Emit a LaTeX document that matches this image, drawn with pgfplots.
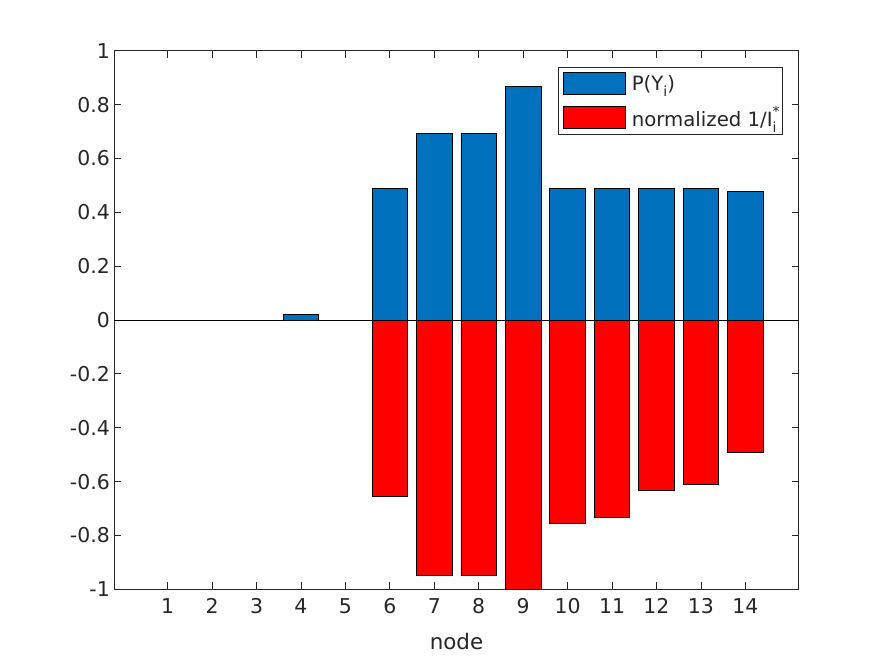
\documentclass[border=0pt]{standalone}
\usepackage{pgfplots}
\pgfplotsset{compat=1.18}
\usepackage{pgfplotstable}
\usepackage{fontspec}
\setmainfont{DejaVu Sans}
\definecolor{mblue}{RGB}{0,114,189}
\definecolor{mred}{RGB}{255,0,0}
\definecolor{mgray}{RGB}{38,38,38}
\newcommand{\sub}[1]{\raisebox{-0.55ex}{\fontsize{14}{14}\selectfont #1}}
\newcommand{\supsub}[2]{\rlap{\raisebox{0.9ex}{\fontsize{14}{14}\selectfont #1}}\raisebox{-0.55ex}{\fontsize{14}{14}\selectfont #2}}

\pgfplotstableread{
node p q
1 0 0
2 0 0
3 0 0
4 0.022 0
5 0 0
6 0.490 -0.655
7 0.694 -0.950
8 0.694 -0.950
9 0.868 -1.000
10 0.490 -0.755
11 0.490 -0.732
12 0.490 -0.632
13 0.490 -0.609
14 0.479 -0.490
}\data

\begin{document}
\begin{tikzpicture}
\begin{axis}[
  scale only axis, width=684.4bp, height=538.5bp,
  xmin=-0.2, xmax=15.2, ymin=-1, ymax=1,
  xtick={1,2,3,4,5,6,7,8,9,10,11,12,13,14},
  xticklabels={1,2,3,4,5,6,7,8,9,10,11,12,13,14},
  ytick={-1,-0.8,-0.6,-0.4,-0.2,0,0.2,0.4,0.6,0.8,1},
  yticklabels={-1,-0.8,-0.6,-0.4,-0.2,0,0.2,0.4,0.6,0.8,1},
  xtick pos=both, ytick pos=both,
  tick align=inside,
  major tick length=7bp,
  axis line style={mgray, line width=0.8bp},
  every tick/.style={mgray, line width=0.8bp},
  tick label style={font=\fontsize{20.5}{24}\selectfont, text=mgray},
  xticklabel style={yshift=-6bp},
  yticklabel style={xshift=-1bp},
  xlabel={node},
  xlabel style={font=\fontsize{21.5}{25}\selectfont, text=mgray, yshift=-12bp},
  extra y ticks={0}, extra y tick labels={},
  extra y tick style={major tick length=0pt, grid=major, major grid style={black, line width=0.7bp}},
  legend style={at={(0.977,0.970)}, anchor=north east, draw=mgray, line width=0.8bp,
    font=\fontsize{19.8}{23}\selectfont, text=mgray, row sep=9.5bp, inner xsep=4bp, inner ysep=4.5bp},
  legend cell align=left,
  mybar/.style={ybar, bar width=0.8, bar shift=0pt, draw=black, line width=0.7bp,
    legend image code/.code={\draw[##1, draw=black, line width=0.7bp] (0bp,-11.3bp) rectangle (62.6bp,11.3bp); \path (66.6bp,0bp);}},
]
\addplot[mybar, fill=mblue] table[x=node, y=p] {\data};
\addlegendentry{P(Y\sub{i})}
\addplot[mybar, fill=mred] table[x=node, y=q] {\data};
\addlegendentry{normalized 1/I\supsub{*}{i}}
\end{axis}
\path (current axis.south west) ++(-114.3bp,-73.7bp);
\path (current axis.north east) ++(85.3bp,50.8bp);
\end{tikzpicture}
\end{document}
